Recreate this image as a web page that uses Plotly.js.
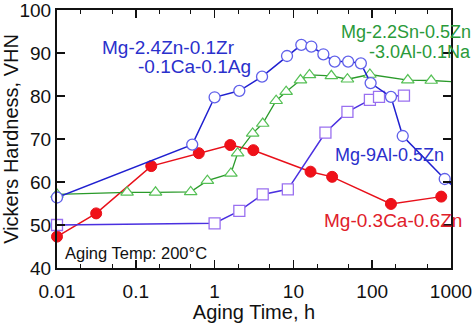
<!DOCTYPE html>
<html><head><meta charset="utf-8">
<script src="https://cdn.plot.ly/plotly-3.0.1.min.js"></script>
<style>html,body{margin:0;padding:0;background:#fff}</style>
</head><body><div id="chart" style="width:474px;height:323px"></div>
<script>
// Mg-2.4Zn-0.1Zr-0.1Ca-0.1Ag (blue circles)
const blueT = [0.01, 0.52, 1.0, 2.06, 4.0, 8.3, 12.6, 16.9, 24, 33.4, 49.5, 71.8, 95.5, 173, 244, 832];
const blueV = [56.4, 68.7, 79.7, 81.2, 84.5, 89.3, 91.9, 91.5, 89.7, 88.0, 88.0, 87.6, 83.0, 79.8, 70.7, 60.7];
const blueTailT = [832, 1500];
const blueTailV = [60.7, 56.7];
// Mg-2.2Sn-0.5Zn-3.0Al-0.1Na (green triangles)
const greenT = [0.01, 0.0775, 0.178, 0.497, 0.81, 1.61, 1.96, 3.04, 4.08, 6.04, 8.09, 12.3, 16.0, 30.3, 48.5, 93.5, 283, 561];
const greenV = [57.1, 57.6, 57.6, 57.7, 60.3, 62.0, 66.7, 71.3, 73.6, 78.9, 81.0, 83.7, 84.9, 84.7, 83.9, 85.0, 83.7, 83.6];
const greenTailT = [561, 1500];
const greenTailV = [83.6, 83.2];
// Mg-9Al-0.5Zn (purple squares)
const purpleT = [0.01, 1.0, 2.06, 4.08, 8.5, 25.5, 48.5, 93.5, 122, 253];
const purpleV = [50.0, 50.4, 53.3, 57.1, 58.3, 71.5, 76.3, 79.1, 79.8, 80.1];
// Mg-0.3Ca-0.6Zn (red filled circles)
const redT = [0.01, 0.0314, 0.157, 0.63, 1.58, 3.1, 16.5, 31, 173, 752];
const redV = [47.3, 52.7, 63.7, 66.7, 68.6, 67.4, 62.4, 61.2, 54.9, 56.6];

const xTicks = [0.01, 0.1, 1, 10, 100, 1000];
const xTickText = ['0.01', '0.1', '1', '10', '100', '1000'];
const yTicks = [40, 50, 60, 70, 80, 90, 100];

const FONT = 'Liberation Sans, Arial, sans-serif';

const traces = [
  {x: redT, y: redV, mode: 'lines+markers', cliponaxis: false,
   line: {color: '#e8101a', width: 1.5},
   marker: {symbol: 'circle', size: 11, color: '#f01018', line: {color: '#e8101a', width: 1}}},
  {x: purpleT, y: purpleV, mode: 'lines+markers', cliponaxis: false,
   line: {color: '#4a30e0', width: 1.5},
   marker: {symbol: 'square', size: 11, color: '#ffffff', line: {color: '#9a70f0', width: 1.3}}},
  {x: greenTailT, y: greenTailV, mode: 'lines', line: {color: '#2a9a2a', width: 1.3}},
  {x: greenT, y: greenV, mode: 'lines+markers', cliponaxis: false,
   line: {color: '#2a9a2a', width: 1.3},
   marker: {symbol: 'triangle-up', size: 11, color: '#ffffff', line: {color: '#55c055', width: 1.2}}},
  {x: blueTailT, y: blueTailV, mode: 'lines', line: {color: '#2020d0', width: 1.5}},
  {x: blueT, y: blueV, mode: 'lines+markers', cliponaxis: false,
   line: {color: '#2020d0', width: 1.5},
   marker: {symbol: 'circle', size: 11, color: '#ffffff', line: {color: '#6060ea', width: 1.3}}}
];

const ann = (text, x, y, color, size, xanchor) => ({
  text, x, y, xref: 'paper', yref: 'paper', showarrow: false, xanchor: xanchor || 'left', yanchor: 'middle',
  font: {family: FONT, size: size, color: color}
});
// paper coords: plot area x 57..451 (394px), y 10..268 (258px)
const px = v => (v - 57) / 394;
const py = v => (268 - v) / 258;

const layout = {
  width: 474, height: 323,
  margin: {l: 57, r: 23, t: 10, b: 55},
  paper_bgcolor: '#fff', plot_bgcolor: '#fff',
  showlegend: false,
  font: {family: FONT, color: '#111'},
  xaxis: {
    type: 'log', range: [-2, 3],
    tickvals: xTicks, ticktext: xTickText,
    ticks: 'inside', ticklen: 8, tickwidth: 1.5, tickcolor: '#111',
    minor: {ticks: 'inside', ticklen: 4, tickwidth: 1, tickcolor: '#111', showgrid: false},
    showline: true, linecolor: '#111', linewidth: 2, mirror: 'ticks',
    showgrid: false, zeroline: false, ticklabeloverflow: 'allow', ticklabelstandoff: 5,
    tickfont: {family: FONT, size: 19, color: '#111'},
    title: {text: 'Aging Time, h', font: {family: FONT, size: 20, color: '#111'}, standoff: 6}
  },
  yaxis: {
    range: [40, 100.0001], tickvals: yTicks,
    ticks: 'inside', ticklen: 8, tickwidth: 1.5, tickcolor: '#111',
    showline: true, linecolor: '#111', linewidth: 2, mirror: 'ticks',
    showgrid: false, zeroline: false, ticklabeloverflow: 'allow',
    tickfont: {family: FONT, size: 19, color: '#111'},
    title: {text: 'Vickers Hardness, VHN', font: {family: FONT, size: 20, color: '#111'}, standoff: 6}
  },
  annotations: [
    ann('Mg-2.4Zn-0.1Zr', px(100), py(47), '#2a30cc', 19),
    ann('-0.1Ca-0.1Ag', px(136), py(67), '#2a30cc', 19),
    ann('Mg-2.2Sn-0.5Zn', px(473), py(32), '#2a9a3a', 18, 'right'),
    ann('-3.0Al-0.1Na', px(473), py(52), '#2a9a3a', 18, 'right'),
    ann('Mg-9Al-0.5Zn', px(333), py(155), '#2a30cc', 18),
    ann('Mg-0.3Ca-0.6Zn', px(322), py(220), '#e0202a', 19),
    ann('Aging Temp: 200°C', px(63), py(253), '#111', 16.5)
  ]
};

Plotly.newPlot('chart', traces, layout, {staticPlot: true, displayModeBar: false});
</script>
</body></html>
